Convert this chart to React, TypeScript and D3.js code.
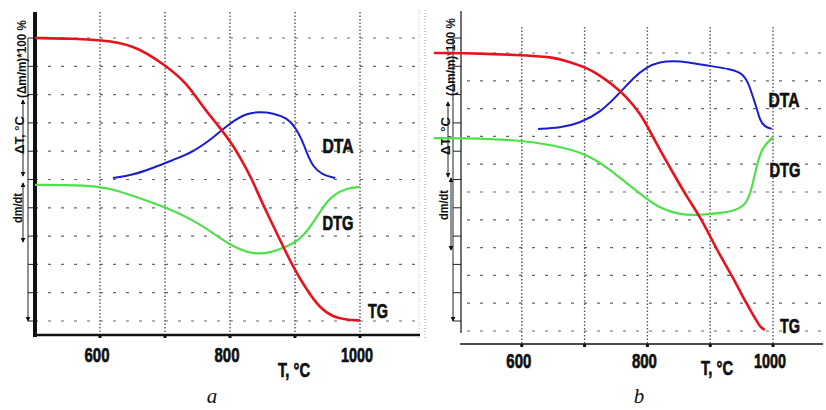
import React, { useEffect, useRef } from 'react';
import * as d3 from 'd3';

// temperatures in °C, values in grid divisions (0 = lowest dashed line, 10 = top one)
const tempTicks = [600, 800, 1000];
const gridTemps = [600, 700, 800, 900, 1000];
const gridDivs = [0, 1, 2, 3, 4, 5, 6, 7, 8, 9, 10];

const tgA = [[500, 10], [560, 9.98], [600, 9.93], [651, 9.78], [700, 9.05], [734, 8.4], [758, 7.56], [785, 6.82], [805, 6.2], [820, 5.6], [834, 5.0], [845, 4.4], [857, 3.82], [877, 2.86], [897, 1.91], [918, 1.1], [938, 0.46], [958, 0.14], [980, 0.04], [1000, 0.02]];
const dtaA = [[620, 5.05], [651, 5.16], [682, 5.41], [712, 5.69], [743, 5.97], [774, 6.47], [800, 7.0], [826, 7.35], [846, 7.39], [866, 7.35], [888, 7.17], [900, 6.86], [911, 6.4], [918, 5.94], [928, 5.44], [942, 5.16], [962, 5.05]];
const dtgA = [[500, 4.81], [589, 4.8], [620, 4.65], [651, 4.42], [703, 4.0], [743, 3.57], [774, 3.11], [800, 2.68], [835, 2.33], [866, 2.44], [882, 2.58], [908, 2.86], [928, 3.46], [943, 4.03], [958, 4.45], [980, 4.7], [1000, 4.74]];

const tgB = [[460, 10], [504, 10], [597, 9.93], [649, 9.86], [676, 9.68], [700, 9.5], [724, 9.21], [745, 8.85], [767, 8.42], [788, 7.84], [804, 7.2], [820, 6.51], [841, 5.68], [863, 4.82], [884, 4.1], [900, 3.4], [916, 2.7], [936, 1.94], [952, 1.22], [968, 0.6], [979, 0.14], [987, 0.04]];
const dtaB = [[626, 7.27], [661, 7.3], [692, 7.48], [724, 7.84], [756, 8.56], [777, 9.1], [799, 9.5], [820, 9.68], [841, 9.71], [863, 9.68], [900, 9.53], [932, 9.42], [951, 9.28], [961, 8.92], [968, 8.42], [975, 7.95], [979, 7.59], [987, 7.34], [998, 7.27]];
const dtgB = [[460, 6.94], [504, 6.94], [597, 6.87], [649, 6.69], [700, 6.4], [735, 5.9], [767, 5.32], [799, 4.75], [820, 4.42], [852, 4.17], [884, 4.17], [916, 4.24], [943, 4.35], [959, 4.6], [967, 5.2], [976, 6.15], [984, 6.62], [1000, 6.98]];

const seriesLabels = ['DTA', 'DTG', 'TG'];
const axisLabels = ['(Δm/m)*100 %', 'ΔT, °C', 'dm/dt'];
const xTitle = 'T, °C';
const panelLetters = ['a', 'b'];

const RED = '#e8121c';
const BLUE = '#1c1cd0';
const GREEN = '#4ee04a';
const BOLD = "'Liberation Sans', Arial, sans-serif";

const panels = [
  {
    letter: panelLetters[0], tg: tgA, dta: dtaA, dtg: dtgA,
    xr: [35, 360], yr: [321, 38], tickYr: [321, 38],
    vTop: 12, bottom: 335, hLeft: 35, right: 420,
    axisX: 35, axisW: 4, axisTop: 12, axisBottom: 337, botW: 2.5,
    longX: 28, dtBr: [23, 100, 176], dmBr: [23, 183, 242],
    axLab: [[26, 59], [24, 135], [22, 208]],
    curveLab: [[338, 153], [338, 230], [378, 318]],
    tickLabY: 362, titleX: 294, titleY: 377, letterX: 212,
  },
  {
    letter: panelLetters[1], tg: tgB, dta: dtaB, dtg: dtgB,
    xr: [459, 773], yr: [331, 53], tickYr: [321, 38],
    vTop: 27, bottom: 344, hLeft: 467, right: 823,
    axisX: 461, axisW: 1.2, axisTop: 11, axisBottom: 333, botW: 1.5,
    longX: 453, dtBr: [448, 102, 177], dmBr: [451, 178, 250],
    axLab: [[455, 57], [450, 136], [448, 205]],
    curveLab: [[784, 107], [785, 177], [790, 333]],
    tickLabY: 368, titleX: 717, titleY: 375, letterX: 639,
  },
];

// rendered widths of the condensed bold labels
const labelWidth = { DTA: 31, DTG: 31, TG: 20, '600': 25, '800': 25, '1000': 32, [xTitle]: 32 };
const axisLabWidth = [78, 38, 30];

const App = () => {
  const svgRef = useRef(null);

  useEffect(() => {
    const svg = d3.select(svgRef.current);
    svg.selectAll('*').remove();

    // arrow head for the left brackets
    svg.append('defs').append('marker')
      .attr('id', 'arr').attr('viewBox', '0 0 6 6').attr('refX', 5).attr('refY', 3)
      .attr('markerWidth', 5).attr('markerHeight', 5).attr('orient', 'auto-start-reverse')
      .append('path').attr('d', 'M0,0L6,3L0,6Z').attr('fill', '#111');

    // faint separators
    svg.append('line').attr('x1', 419).attr('x2', 419).attr('y1', 10).attr('y2', 340)
      .attr('stroke', '#bbb').attr('stroke-dasharray', '1,2');
    svg.append('line').attr('x1', 425).attr('x2', 425).attr('y1', 10).attr('y2', 340)
      .attr('stroke', '#999').attr('stroke-dasharray', '1,2');

    const boldText = (g, xx, yy, t) => g.append('text').attr('x', xx).attr('y', yy)
      .attr('text-anchor', 'middle')
      .attr('textLength', labelWidth[t]).attr('lengthAdjust', 'spacingAndGlyphs')
      .style('font-family', BOLD).style('font-weight', 'bold').style('font-size', '21px')
      .attr('fill', '#111').attr('stroke', '#111').attr('stroke-width', 0.7)
      .text(t);

    panels.forEach(p => {
      const x = d3.scaleLinear().domain([500, 1000]).range(p.xr);
      const y = d3.scaleLinear().domain([0, 10]).range(p.yr);
      const yTick = d3.scaleLinear().domain([0, 10]).range(p.tickYr);
      const g = svg.append('g');

      // horizontal dashed grid
      g.selectAll('.hg').data(gridDivs).enter().append('line')
        .attr('x1', p.hLeft).attr('x2', p.right)
        .attr('y1', d => y(d)).attr('y2', d => y(d))
        .attr('stroke', '#666').attr('stroke-width', 1.2).attr('stroke-dasharray', '3,10');

      // vertical dotted grid
      g.selectAll('.vg').data(gridTemps).enter().append('line')
        .attr('x1', d => x(d)).attr('x2', d => x(d))
        .attr('y1', p.vTop).attr('y2', p.bottom)
        .attr('stroke', '#555').attr('stroke-width', 1.4).attr('stroke-dasharray', '1.5,2');

      // x axis
      g.append('line').attr('x1', p.axisX - 1).attr('x2', p.right)
        .attr('y1', p.bottom).attr('y2', p.bottom)
        .attr('stroke', '#111').attr('stroke-width', p.botW);
      g.selectAll('.xt').data(gridTemps).enter().append('rect')
        .attr('x', d => x(d) - 1.5).attr('y', p.bottom).attr('width', 3).attr('height', 3)
        .attr('fill', '#111');

      // y axis + its ticks
      g.selectAll('.yt').data(gridDivs).enter().append('line')
        .attr('x1', p.longX).attr('x2', p.axisX)
        .attr('y1', d => yTick(d)).attr('y2', d => yTick(d))
        .attr('stroke', '#222').attr('stroke-width', 1);
      g.append('line').attr('x1', p.axisX).attr('x2', p.axisX)
        .attr('y1', p.axisTop).attr('y2', p.axisBottom)
        .attr('stroke', '#111').attr('stroke-width', p.axisW);

      // left scale line and brackets
      g.append('line').attr('x1', p.longX).attr('x2', p.longX)
        .attr('y1', yTick(10)).attr('y2', yTick(0))
        .attr('stroke', '#222').attr('stroke-width', 1).attr('marker-end', 'url(#arr)');
      [p.dtBr, p.dmBr].forEach(b => {
        g.append('line').attr('x1', b[0]).attr('x2', b[0]).attr('y1', b[1]).attr('y2', b[2])
          .attr('stroke', '#222').attr('stroke-width', 1)
          .attr('marker-start', 'url(#arr)').attr('marker-end', 'url(#arr)');
      });

      // rotated axis labels
      axisLabels.forEach((t, i) => {
        g.append('text')
          .attr('transform', `translate(${p.axLab[i][0]},${p.axLab[i][1]}) rotate(-90)`)
          .attr('text-anchor', 'middle')
          .attr('textLength', axisLabWidth[i]).attr('lengthAdjust', 'spacingAndGlyphs')
          .style('font-family', BOLD)
          .style('font-weight', 'bold').style('font-size', '12.5px')
          .attr('fill', '#111').text(t);
      });

      // curves
      const line = d3.line().x(d => x(d[0])).y(d => y(d[1])).curve(d3.curveBasis);
      [[p.dtg, GREEN, 2.2], [p.dta, BLUE, 2], [p.tg, RED, 2.6]].forEach(([data, col, w]) => {
        g.append('path').attr('d', line(data)).attr('fill', 'none')
          .attr('stroke', col).attr('stroke-width', w).attr('stroke-linejoin', 'round');
      });

      // curve names
      seriesLabels.forEach((t, i) => boldText(g, p.curveLab[i][0], p.curveLab[i][1], t));

      // tick labels
      tempTicks.forEach(d => boldText(g, x(d) - 3, p.tickLabY, String(d)));
      boldText(g, p.titleX, p.titleY, xTitle);

      g.append('text').attr('x', p.letterX).attr('y', 403).attr('text-anchor', 'middle')
        .style('font-family', "'Liberation Serif', 'DejaVu Serif', serif")
        .style('font-style', 'italic').style('font-size', '21px')
        .attr('fill', '#111').text(p.letter);
    });
  }, []);

  return (
    <svg ref={svgRef} width={826} height={410} viewBox="0 0 826 410"
      style={{ position: 'absolute', left: 0, top: 0, background: '#fff' }}>
    </svg>
  );
};

export default App;
